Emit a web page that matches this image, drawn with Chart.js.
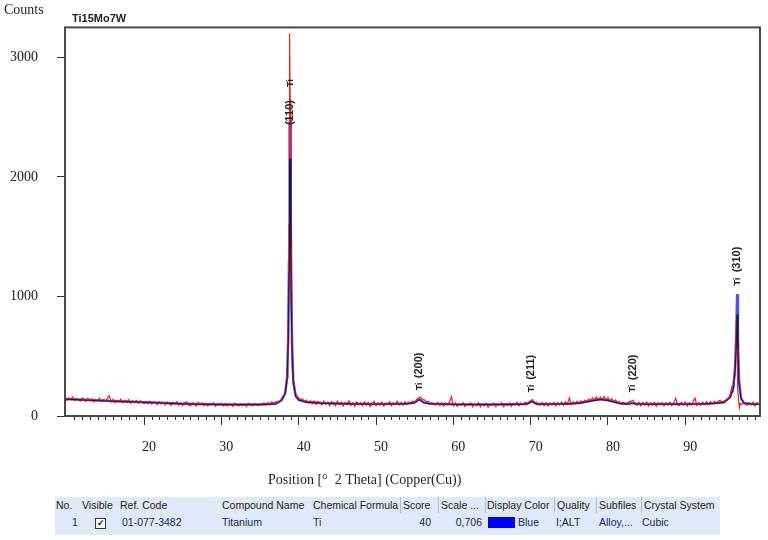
<!DOCTYPE html>
<html><head><meta charset="utf-8">
<script src="https://cdn.jsdelivr.net/npm/chart.js@4.4.1/dist/chart.umd.min.js"></script>
<style>
html,body{margin:0;padding:0;background:#fff;}
#wrap{position:relative;width:768px;height:540px;overflow:hidden;}
#cw{position:absolute;left:0;top:0;width:768px;height:540px;}
#tbl{position:absolute;left:55px;top:497px;width:665px;height:38px;background:#dfe9f7;font-family:"Liberation Sans",Arial,sans-serif;font-size:10.5px;color:#222;}
#tbl span{position:absolute;white-space:nowrap;line-height:13px;}
#tbl .d{color:#1b2470;top:19px;}
#tbl .h{top:2px;}
.sep{position:absolute;top:0;width:1px;height:16px;background:#9fc2ea;}
.chk{position:absolute;left:40px;top:21px;width:9px;height:9px;border:1px solid #333;background:#fff;font-size:9px;line-height:9px;text-align:center;font-weight:bold;color:#111;}
.sw{position:absolute;left:433px;top:20px;width:27px;height:11px;background:#0000ff;}
</style></head>
<body>
<div id="wrap">
<div id="cw"><canvas id="c"></canvas></div>
<div id="tbl">
<span class="h" style="left:1px">No.</span>
<span class="h" style="left:27px">Visible</span>
<span class="h" style="left:65px">Ref. Code</span>
<span class="h" style="left:167px">Compound Name</span>
<span class="h" style="left:258px">Chemical Formula</span>
<div class="sep" style="left:345px"></div>
<span class="h" style="left:348px">Score</span>
<div class="sep" style="left:383px"></div>
<span class="h" style="left:386px">Scale ...</span>
<div class="sep" style="left:430px"></div>
<span class="h" style="left:432px">Display Color</span>
<div class="sep" style="left:499px"></div>
<span class="h" style="left:502px">Quality</span>
<div class="sep" style="left:541px"></div>
<span class="h" style="left:544px">Subfiles</span>
<div class="sep" style="left:586px"></div>
<span class="h" style="left:589px">Crystal System</span>
<span class="d" style="left:17px">1</span>
<div class="chk">&#10003;</div>
<span class="d" style="left:67px">01-077-3482</span>
<span class="d" style="left:167px">Titanium</span>
<span class="d" style="left:258px">Ti</span>
<span class="d" style="right:289px">40</span>
<span class="d" style="right:238px">0,706</span>
<div class="sw"></div>
<span class="d" style="left:463px">Blue</span>
<span class="d" style="left:501px">I;ALT</span>
<span class="d" style="left:544px">Alloy,...</span>
<span class="d" style="left:587px">Cubic</span>
</div>
</div>
<script>
// ---- measured scan (red) ----
const scanX = [
9.75,10,10.25,10.5,10.75,11,11.25,11.5,11.75,12,12.25,12.5,12.75,13,13.25,13.5,13.75,14,14.25,14.5,14.75,15,15.25,15.5,15.75,16,16.25,16.5,16.75,17,17.25,17.5,17.75,18,18.25,18.5,18.75,19,19.25,19.5,19.75,20,
20.25,20.5,20.75,21,21.25,21.5,21.75,22,22.25,22.5,22.75,23,23.25,23.5,23.75,24,24.25,24.5,24.75,25,25.25,25.5,25.75,26,26.25,26.5,26.75,27,27.25,27.5,27.75,28,28.25,28.5,28.75,29,29.25,29.5,29.75,30,
30.25,30.5,30.75,31,31.25,31.5,31.75,32,32.25,32.5,32.75,33,33.25,33.5,33.75,34,34.25,34.5,34.75,35,35.25,35.5,35.75,36,36.25,36.5,36.75,37,37.25,
37.5,37.75,38,38.25,38.4,38.5,38.6,38.7,38.75,38.8,38.85,38.9,38.95,39,39.05,39.1,39.2,39.3,39.5,39.75,40,40.25,
40.5,40.75,41,41.25,41.5,41.75,42,42.25,42.5,42.75,43,43.25,43.5,43.75,44,44.25,44.5,44.75,45,45.25,45.5,45.75,46,46.25,46.5,46.75,47,47.25,47.5,47.75,48,48.25,48.5,48.75,49,49.25,49.5,49.75,50,50.25,50.5,50.75,51,51.25,51.5,51.75,52,52.25,52.5,52.75,53,53.25,53.5,53.75,54,54.25,
54.5,54.75,55,55.25,55.5,55.75,56,56.25,56.5,56.75,57,57.25,57.5,
57.75,58,58.25,58.5,58.75,59,59.25,59.5,59.75,60,60.25,60.5,60.75,61,61.25,61.5,61.75,62,62.25,62.5,62.75,63,63.25,63.5,63.75,64,64.25,64.5,64.75,65,65.25,65.5,65.75,66,66.25,66.5,66.75,67,67.25,67.5,67.75,68,68.25,68.5,68.75,69,69.25,
69.5,69.75,70,70.25,70.5,70.75,71,
71.25,71.5,71.75,72,72.25,72.5,72.75,73,73.25,73.5,73.75,74,74.25,74.5,74.75,75,75.25,75.5,75.75,76,76.25,76.5,
76.75,77,77.25,77.5,77.75,78,78.25,78.5,78.75,79,79.25,79.5,79.75,80,80.25,80.5,80.75,81,81.25,81.5,
81.75,82,82.25,82.5,82.75,83,83.25,83.5,83.75,84,84.25,84.5,84.75,85,85.25,85.5,85.75,86,86.25,86.5,86.75,87,87.25,87.5,87.75,88,88.25,88.5,88.75,89,89.25,89.5,89.75,90,90.25,90.5,90.75,91,91.25,91.5,91.75,92,92.25,92.5,92.75,93,93.25,93.5,93.75,94,94.25,94.5,
94.75,95,95.25,95.5,95.75,96,96.2,96.4,96.5,96.6,96.7,96.75,96.8,96.9,97,97.1,97.25,97.5,97.75,
98,98.25,98.5,98.75,99,99.25,99.5,99.75];
const scanY = [
158,130,152,136,160,128,147,139,124,151,142,121,149,131,145,118,140,127,150,119,138,126,148,170,117,139,112,134,122,141,111,133,120,137,108,129,115,131,106,127,118,104,
121,102,124,98,117,109,94,120,101,113,92,118,104,88,115,99,121,90,108,86,112,119,93,84,110,101,82,114,95,109,86,103,83,107,97,111,80,104,92,108,
84,106,82,101,96,79,108,90,83,104,87,99,78,107,92,85,105,96,86,103,94,109,91,112,98,118,106,121,115,
118,130,150,185,240,320,520,1050,1600,2350,3200,2650,2000,1350,900,600,380,260,205,172,150,138,
142,118,135,109,128,101,126,96,122,108,92,125,99,117,88,121,104,86,124,95,116,84,112,99,127,87,109,81,118,96,111,85,119,93,114,80,106,123,88,110,94,117,83,107,98,120,86,112,97,124,92,115,90,121,102,118,
108,126,114,138,152,158,140,136,118,124,106,112,96,
92,114,88,110,83,109,95,116,162,86,111,80,104,89,113,78,101,91,110,76,99,86,112,75,103,84,109,73,97,88,108,79,101,90,113,77,102,87,110,81,104,92,115,85,109,97,116,
108,118,128,138,112,116,98,
92,113,86,109,82,107,95,114,84,111,93,116,89,119,97,152,96,120,101,124,105,127,
112,133,118,141,129,152,136,160,131,158,139,163,133,154,127,145,118,134,110,121,
100,114,96,110,118,124,132,98,90,115,86,112,94,117,84,109,91,114,82,108,95,113,85,110,93,116,87,111,148,92,89,113,94,118,83,110,92,117,150,88,110,90,116,95,119,97,121,100,124,106,126,130,
118,124,130,140,165,240,210,330,520,790,640,420,230,120,70,105,98,108,102,
88,112,94,116,86,110,98,92];

// ---- fitted profile (blue) and calculated profile (black) ----
const profileX = [9.75,12,15,18,20,22,25,30,35,37,37.75,38.25,38.5,38.65,38.75,38.8,38.85,38.9,38.95,39,39.05,39.15,39.3,39.6,40,41,43,46,50,54,55,55.6,56.2,57,60,65,69.5,70.15,70.8,72,75,76.5,78,79,80,81.5,82.5,83.2,83.8,85,90,93,95,95.8,96.2,96.45,96.6,96.7,96.8,96.95,97.2,97.6,98.5,99.75];
const fitY = [142,135,127,120,116,110,103,96,96,102,130,190,320,650,1300,2000,2450,2480,2300,1700,1100,600,300,170,135,118,108,103,100,103,112,140,112,103,98,97,100,122,101,100,103,110,130,140,132,106,101,108,101,100,100,103,115,160,240,420,700,1020,650,300,150,108,100,100];
const calcY = [141,134,126,119,115,109,102,95,95,101,128,185,310,620,1200,1800,2100,2150,1950,1400,900,520,280,165,133,116,106,102,99,102,110,137,110,102,97,96,99,120,100,99,102,109,128,138,130,105,100,106,100,99,99,102,113,150,225,380,620,850,560,270,145,106,99,99];

// ---- ticks and labels ----
const xTickValues = [20,30,40,50,60,70,80,90];
const yTickValues = [0,1000,2000,3000];
const peakHkl = ['(110)','(200)','(211)','(220)','(310)'];
const peakPos = [38.9,55.6,70.1,83.2,96.7];
const phaseName = 'Ti';
const sampleName = 'Ti15Mo7W';
const yAxisTitle = 'Counts';
const xAxisTitle = 'Position [°  2 Theta] (Copper(Cu))';

// label placement (counts) for the reflection markers
const markerLayout = {tiY:[2785,248,231,231,1125], hklY:[2538,423,407,407,1309]};

const pts = (xs, ys) => xs.map((x, i) => ({x: x, y: ys[i]}));

const decor = {
  id: 'decor',
  afterDraw(chart) {
    const ctx = chart.ctx, a = chart.chartArea;
    const xs = chart.scales.x, ys = chart.scales.y;
    ctx.save();
    ctx.strokeStyle = '#333'; ctx.lineWidth = 1;
    ctx.beginPath();
    for (let v = 10; v <= 99; v++) {
      if (v % 10 === 0) continue;
      const px = Math.round(xs.getPixelForValue(v)) + 0.5;
      ctx.moveTo(px, a.bottom); ctx.lineTo(px, a.bottom + 4);
    }
    ctx.stroke();
    ctx.strokeStyle = '#4a4a4a'; ctx.lineWidth = 2;
    ctx.strokeRect(a.left, a.top, a.right - a.left, a.bottom - a.top);
    ctx.fillStyle = '#222';
    ctx.font = '14px "Liberation Serif", "DejaVu Serif", serif';
    ctx.textBaseline = 'middle'; ctx.textAlign = 'left';
    ctx.fillText(yAxisTitle, 4, 10);
    ctx.fillText(xAxisTitle, 268, 480);
    ctx.font = 'bold 11px "Liberation Sans", Arial, sans-serif';
    ctx.fillText(sampleName, 72, 19);
    ctx.textAlign = 'center';
    for (let i = 0; i < peakHkl.length; i++) {
      const px = xs.getPixelForValue(peakPos[i]);
      const pyT = ys.getPixelForValue(markerLayout.tiY[i]);
      const pyH = ys.getPixelForValue(markerLayout.hklY[i]);
      ctx.save(); ctx.translate(px, pyT); ctx.rotate(-Math.PI / 2);
      ctx.font = 'bold 9px "Liberation Sans", Arial, sans-serif';
      ctx.fillText(phaseName, 0, 0); ctx.restore();
      ctx.save(); ctx.translate(px, pyH); ctx.rotate(-Math.PI / 2);
      ctx.font = 'bold 11px "Liberation Sans", Arial, sans-serif';
      ctx.fillText(peakHkl[i], 0, 0); ctx.restore();
    }
    ctx.restore();
  }
};

new Chart(document.getElementById('c'), {
  type: 'line',
  data: {
    datasets: [
      {label: 'calc', data: pts(profileX, calcY), borderColor: '#1a1a3a', borderWidth: 1, pointRadius: 0, order: 0},
      {label: 'scan', data: pts(scanX, scanY), borderColor: '#ff1a1a', borderWidth: 1.2, pointRadius: 0, order: 1},
      {label: 'fit', data: pts(profileX, fitY), borderColor: 'rgba(50,50,255,0.85)', borderWidth: 2.5, pointRadius: 0, order: 2}
    ]
  },
  options: {
    responsive: true, maintainAspectRatio: false, animation: false,
    layout: {padding: {top: 9, right: 8, left: 0, bottom: 0}},
    plugins: {legend: {display: false}, tooltip: {enabled: false}},
    scales: {
      x: {
        type: 'linear', min: 9.78, max: 99.66,
        afterBuildTicks: s => { s.ticks = xTickValues.map(v => ({value: v})); },
        afterFit: s => { s.height = 124; },
        grid: {drawOnChartArea: false, drawTicks: true, tickLength: 9, color: '#333'},
        border: {display: false},
        ticks: {padding: 14, labelOffset: 5, maxRotation: 0, color: '#222', callback: v => String(v), font: {family: '"Liberation Serif", "DejaVu Serif", serif', size: 14}}
      },
      y: {
        type: 'linear', min: 0, max: 3250,
        afterBuildTicks: s => { s.ticks = yTickValues.map(v => ({value: v})); },
        afterFit: s => { s.width = 65; },
        grid: {drawOnChartArea: false, drawTicks: true, tickLength: 8, color: '#333'},
        border: {display: false},
        ticks: {padding: 19, color: '#222', callback: v => String(v), font: {family: '"Liberation Serif", "DejaVu Serif", serif', size: 14}}
      }
    }
  },
  plugins: [decor]
});
</script>
</body></html>
